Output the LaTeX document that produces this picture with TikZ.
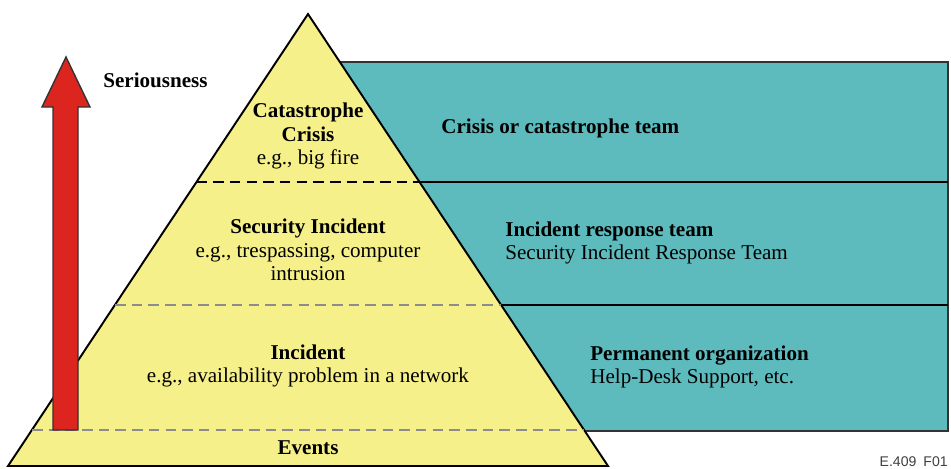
\documentclass[tikz,border=0pt]{standalone}
\usepackage{fontspec}
\setmainfont{Liberation Serif}
\setsansfont{Liberation Sans}
\definecolor{pyryellow}{HTML}{F5F08A}
\definecolor{teamteal}{HTML}{5DBBBE}
\definecolor{arrowred}{HTML}{DC251E}
\tikzset{
  level/.style={align=center, inner sep=0pt, font=\fontsize{12}{13.3}\selectfont},
  team/.style={align=left, anchor=west, inner sep=0pt, font=\fontsize{12}{13.3}\selectfont},
  layerline/.style={dashed, dash pattern=on 6pt off 3.5pt, line width=0.8pt}
}
\begin{document}
\begin{tikzpicture}[x=0.02cm, y=-0.02cm]
  \useasboundingbox (0, 0) rectangle (951, 468);
  % team boxes behind the pyramid
  \filldraw[fill=teamteal, draw=black!80, line width=0.8pt] (330, 62) rectangle (948, 431);
  \draw[line width=0.8pt] (330, 182) -- (948, 182);
  \draw[line width=0.8pt] (330, 305) -- (948, 305);
  % pyramid
  \filldraw[fill=pyryellow, draw=black, line width=1.1pt] (308, 14) -- (608, 466) -- (8, 466) -- cycle;
  \draw[layerline, black] (196.5, 182) -- (419.5, 182);
  \draw[layerline, black!45] (115, 305) -- (501, 305);
  \draw[layerline, black!45] (32, 430) -- (584, 430);
  % seriousness arrow
  \filldraw[fill=arrowred, draw=black!80, line width=0.8pt] (53, 430) -- (53, 107) -- (42, 107)
      -- (66, 57) -- (90, 107) -- (78, 107) -- (78, 430) -- cycle;
  \node[team] (serious) at (103, 80) {\textbf{Seriousness}};
  % levels
  \node[level] (crisis) at (308, 136) {\textbf{Catastrophe}\\\textbf{Crisis}\\e.g., big fire};
  \node[level] (security) at (308, 250) {\textbf{Security Incident}\\e.g., trespassing, computer\\intrusion};
  \node[level] (incident) at (308, 366) {\textbf{Incident}\\e.g., availability problem in a network};
  \node[level] (events) at (308, 448) {\textbf{Events}};
  % teams
  \node[team] (crisisteam) at (441, 128) {\textbf{Crisis or catastrophe team}};
  \node[team] (irt) at (505, 243) {\textbf{Incident response team}\\Security Incident Response Team};
  \node[team] (perm) at (590, 367) {\textbf{Permanent organization}\\Help-Desk Support, etc.};
  \node[anchor=east, inner sep=0pt, text=black!75, font=\sffamily\fontsize{8}{9}\selectfont] (ref) at (948, 462) {E.409\enspace F01};
\end{tikzpicture}
\end{document}
